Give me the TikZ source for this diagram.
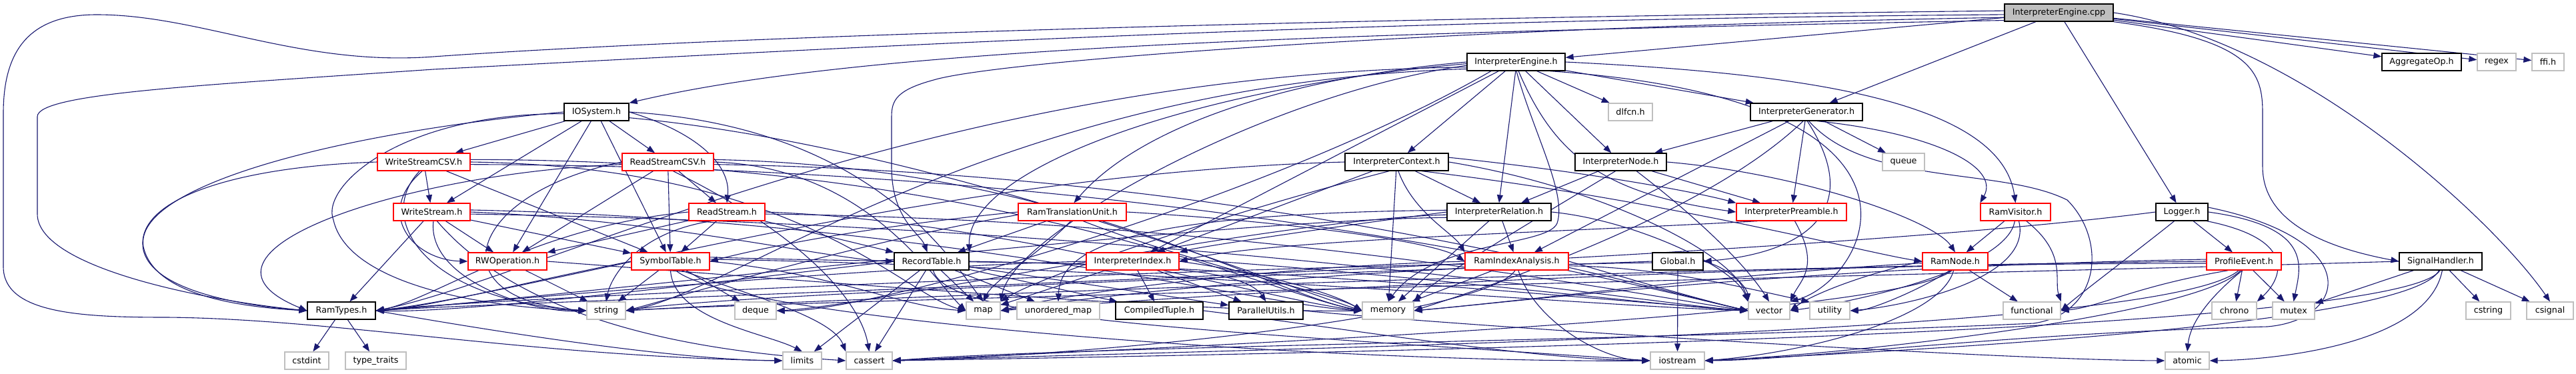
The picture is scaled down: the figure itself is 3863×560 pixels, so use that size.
\documentclass[tikz,border=0pt]{standalone}
\usepackage{fontspec}
\setmainfont{DejaVu Sans}
\usetikzlibrary{arrows.meta}
\definecolor{edgec}{HTML}{191970}
\definecolor{redc}{HTML}{FF0000}
\definecolor{greyc}{HTML}{BFBFBF}
\pgfdeclarelayer{background}
\pgfsetlayers{background,main}
\tikzset{
 nbox/.style={rectangle, minimum height=26pt, inner sep=0pt, fill=white, line width=1.3pt, font=\fontsize{12.7}{15}\selectfont, text=black},
 blk/.style={nbox, draw=black},
 rdn/.style={nbox, draw=redc},
 sys/.style={nbox, draw=greyc},
 cppn/.style={nbox, draw=black, fill=greyc},
 e/.style={draw=edgec, line width=1.1pt, -{Triangle[length=12pt,width=9pt]}},
}
\begin{document}
\begin{tikzpicture}[x=1pt,y=-1pt]
\useasboundingbox (0,0) rectangle (3863,560);
% row 0
\node[cppn, minimum width=163pt] (C) at (3087.5,19) {InterpreterEngine.cpp};
% row 1
\node[blk, minimum width=147pt] (IEh) at (2273.5,93) {InterpreterEngine.h};
\node[blk, minimum width=119pt] (Agg) at (3631.5,93) {AggregateOp.h};
\node[sys, minimum width=58pt] (regex) at (3744,93) {regex};
\node[sys, minimum width=48pt] (ffi) at (3821,93) {ffi.h};
% row 2
\node[blk, minimum width=97pt] (IOS) at (894.5,168) {IOSystem.h};
\node[blk, minimum width=168pt] (IGen) at (2709,168) {InterpreterGenerator.h};
\node[sys, minimum width=66pt] (dlfcn) at (2445,168) {dlfcn.h};
% row 3
\node[rdn, minimum width=139pt] (WSC) at (635.5,243) {WriteStreamCSV.h};
\node[rdn, minimum width=137pt] (RSC) at (1001.5,243) {ReadStreamCSV.h};
\node[blk, minimum width=155pt] (ICtx) at (2094.5,243) {InterpreterContext.h};
\node[blk, minimum width=137pt] (INode) at (2430.5,243) {InterpreterNode.h};
\node[sys, minimum width=63pt] (queue) at (2854.5,243) {queue};
% row 4
\node[rdn, minimum width=115pt] (WS) at (647.5,318) {WriteStream.h};
\node[rdn, minimum width=114pt] (RS) at (1090,318) {ReadStream.h};
\node[rdn, minimum width=162pt] (RTU) at (1608,318) {RamTranslationUnit.h};
\node[blk, minimum width=156pt] (IRel) at (2248,318) {InterpreterRelation.h};
\node[rdn, minimum width=165pt] (IPre) at (2686.5,318) {InterpreterPreamble.h};
\node[rdn, minimum width=105pt] (RVis) at (3022.5,318) {RamVisitor.h};
\node[blk, minimum width=78pt] (Log) at (3272,318) {Logger.h};
% row 5
\node[rdn, minimum width=118pt] (RWO) at (761,392) {RWOperation.h};
\node[rdn, minimum width=117pt] (Sym) at (1005.5,392) {SymbolTable.h};
\node[blk, minimum width=112pt] (Rec) at (1397,392) {RecordTable.h};
\node[rdn, minimum width=139pt] (IIdx) at (1698.5,392) {InterpreterIndex.h};
\node[rdn, minimum width=155pt] (RIA) at (2274.5,392) {RamIndexAnalysis.h};
\node[blk, minimum width=76pt] (Glob) at (2516,392) {Global.h};
\node[rdn, minimum width=98pt] (RNode) at (2932,392) {RamNode.h};
\node[rdn, minimum width=112pt] (Prof) at (3365,392) {ProfileEvent.h};
\node[blk, minimum width=124pt] (Sig) at (3660,392) {SignalHandler.h};
% row 6
\node[blk, minimum width=102pt] (RT) at (512,466) {RamTypes.h};
\node[sys, minimum width=58pt] (string) at (909,466) {string};
\node[sys, minimum width=62pt] (deque) at (1133,466) {deque};
\node[sys, minimum width=51pt] (map) at (1474.5,466) {map};
\node[sys, minimum width=124pt] (umap) at (1587,466) {unordered\_map};
\node[blk, minimum width=131pt] (CT) at (1738.5,466) {CompiledTuple.h};
\node[blk, minimum width=111pt] (PU) at (1898.5,466) {ParallelUtils.h};
\node[sys, minimum width=77pt] (memory) at (2081.5,466) {memory};
\node[sys, minimum width=62pt] (vector) at (2653,466) {vector};
\node[sys, minimum width=60pt] (utility) at (2744,466) {utility};
\node[sys, minimum width=86pt] (functional) at (3047,466) {functional};
\node[sys, minimum width=67pt] (chrono) at (3350.5,466) {chrono};
\node[sys, minimum width=63pt] (mutex) at (3439.5,466) {mutex};
\node[sys, minimum width=67pt] (cstring) at (3731.5,466) {cstring};
\node[sys, minimum width=70pt] (csignal) at (3824,466) {csignal};
% row 7
\node[sys, minimum width=66pt] (cstdint) at (460,541) {cstdint};
\node[sys, minimum width=91pt] (typet) at (563.5,541) {type\_traits};
\node[sys, minimum width=58pt] (limits) at (1203,541) {limits};
\node[sys, minimum width=69pt] (cassert) at (1303.5,541) {cassert};
\node[sys, minimum width=81pt] (iostream) at (2515.5,541) {iostream};
\node[sys, minimum width=66pt] (atomic) at (3280,541) {atomic};

\begin{pgfonlayer}{background}
% cpp
\draw[e] (C) -- (IEh);
\draw[e] (C) -- (Agg);
\draw[e] (C) -- (regex);
\draw[e] (C) -- (ffi);
\draw[e] (C) -- (Log);
\draw[e] (C) -- (IGen);
\draw[e] (C.188) .. controls (2000,50) and (1300,70) .. (IOS.north east);
\draw[e] (C.east) .. controls (3450,60) and (3740,330) .. (csignal.north);
\draw[e] (C.south east) .. controls (3380,60) and (3393,110) .. (3393,170) -- (3393,250) .. controls (3393,330) and (3480,370) .. (Sig.west);
\draw[e] (C.182) .. controls (2000,30) and (1300,70) .. (650,104) .. controls (300,128) and (56,140) .. (56,175) -- (56,321) .. controls (56,400) and (300,450) .. (RT.west);
\draw[e] (C.178) .. controls (1800,30) and (1000,60) .. (650,85) .. controls (450,100) and (300,22) .. (145,22) .. controls (40,22) and (5,80) .. (5,170) -- (5,400) .. controls (5,470) and (120,476) .. (250,476) .. controls (500,478) and (800,535) .. (limits.west);
\draw[e] (C.185) .. controls (2200,40) and (1500,90) .. (1400,120) .. controls (1345,135) and (1337,150) .. (1337,175) -- (1337,250) .. controls (1337,330) and (1380,350) .. (Rec.115);
% InterpreterEngine.h
\draw[e] (IEh) -- (ICtx);
\draw[e] (IEh.-93) -- (IRel.north);
\draw[e] (IEh) -- (INode);
\draw[e] (IEh) -- (dlfcn);
\draw[e] (IEh) -- (IGen);
\draw[e] (IEh.-75) .. controls (2330,230) and (2400,290) .. (IPre.west);
\draw[e] (IEh.east) .. controls (2700,110) and (3000,150) .. (RVis.north);
\draw[e] (IEh.-15) .. controls (2950,150) and (2800,420) .. (vector.north east);
\draw[e] (IEh.-88) .. controls (2300,200) and (2350,290) .. (2335,335) .. controls (2320,370) and (2150,360) .. (memory.north);
\draw[e] (IEh.west) .. controls (1900,120) and (1700,200) .. (RTU.80);
\draw[e] (IEh.182) .. controls (1800,130) and (1450,250) .. (Rec.north east);
\draw[e] (IEh.184) .. controls (1900,140) and (1520,350) .. (map.north east);
\draw[e] (IEh) -- (IIdx);
\draw[e] (IEh.186) .. controls (1400,110) and (800,420) .. (RT.east);
\draw[e] (IEh.188) .. controls (1500,125) and (1100,440) .. (string.east);
\draw[e] (IEh.200) .. controls (1900,300) and (1300,470) .. (deque.east);
% IOSystem.h
\draw[e] (IOS) -- (WSC);
\draw[e] (IOS) -- (WS);
\draw[e] (IOS) -- (RWO);
\draw[e] (IOS) -- (Sym);
\draw[e] (IOS) -- (RSC);
\draw[e] (IOS.east) .. controls (1050,200) and (1096,250) .. (RS.north);
\draw[e] (IOS.west) .. controls (500,200) and (200,280) .. (215,370) .. controls (230,440) and (350,460) .. (RT.west);
\draw[e] (IOS.183) .. controls (600,170) and (480,280) .. (500,330) .. controls (520,420) and (700,460) .. (string.west);
\draw[e] (IOS.east) .. controls (1300,190) and (1420,380) .. (map.north);
\draw[e] (IOS.-10) .. controls (1400,220) and (1900,420) .. (memory.west);
% WriteStreamCSV.h
\draw[e] (WSC) -- (WS);
\draw[e] (WSC.west) .. controls (350,250) and (200,300) .. (215,375) .. controls (230,440) and (380,460) .. (RT.west);
\draw[e] (WSC) -- (Sym);
\draw[e] (WSC.-100) .. controls (560,320) and (620,390) .. (RWO.west);
\draw[e] (WSC.-115) .. controls (560,330) and (640,450) .. (string.west);
\draw[e] (WSC.east) .. controls (1200,250) and (1350,440) .. (map.west);
\draw[e] (WSC.3) .. controls (1500,240) and (1900,440) .. (memory.west);
\draw[e] (WSC.-3) .. controls (1800,250) and (2500,440) .. (vector.west);
% ReadStreamCSV.h
\draw[e] (RSC) -- (RS);
\draw[e] (RSC) -- (Sym);
\draw[e] (RSC) -- (RWO);
\draw[e] (RSC.west) .. controls (700,290) and (650,450) .. (string.west);
\draw[e] (RSC.183) .. controls (600,260) and (250,380) .. (RT.west);
\draw[e] (RSC.east) .. controls (1300,250) and (1400,420) .. (map.west);
\draw[e] (RSC.3) .. controls (1600,250) and (1900,440) .. (memory.west);
\draw[e] (RSC.-3) .. controls (1900,260) and (2500,440) .. (vector.west);
\draw[e] (RSC.-60) .. controls (1200,350) and (1290,450) .. (cassert.north);
% WriteStream.h
\draw[e] (WS) -- (RWO);
\draw[e] (WS) -- (Sym);
\draw[e] (WS) -- (RT);
\draw[e] (WS.-80) .. controls (640,420) and (800,470) .. (string.west);
\draw[e] (WS.east) .. controls (1000,330) and (1250,390) .. (Rec.west);
\draw[e] (WS.3) .. controls (1400,330) and (1900,460) .. (memory.west);
\draw[e] (WS.-3) .. controls (1800,340) and (2500,460) .. (vector.west);
\draw[e] (WS.-60) .. controls (800,500) and (1100,530) .. (cassert.west);
% ReadStream.h
\draw[e] (RS) -- (RWO);
\draw[e] (RS) -- (Sym);
\draw[e] (RS.-150) .. controls (950,350) and (915,420) .. (string.north);
\draw[e] (RS.west) .. controls (800,340) and (650,450) .. (RT.east);
\draw[e] (RS) -- (Rec);
\draw[e] (RS.east) .. controls (1500,330) and (1900,450) .. (memory.west);
\draw[e] (RS.-3) .. controls (1900,330) and (2500,450) .. (vector.west);
% RWOperation.h
\draw[e] (RWO) -- (string);
\draw[e] (RWO.east) .. controls (1200,420) and (1800,470) .. (memory.west);
% SymbolTable.h
\draw[e] (Sym) -- (string);
\draw[e] (Sym) -- (deque);
\draw[e] (Sym.west) .. controls (800,420) and (650,460) .. (RT.east);
\draw[e] (Sym.south) .. controls (1010,480) and (1150,500) .. (limits.north);
\draw[e] (Sym.-60) .. controls (1100,480) and (2000,545) .. (iostream.west);
\draw[e] (Sym.east) .. controls (1250,410) and (1350,460) .. (map.west);
\draw[e] (Sym.3) .. controls (1700,400) and (2400,460) .. (vector.west);
\draw[e] (Sym.6) .. controls (1500,400) and (1850,380) .. (PU.north);
\draw[e] (Sym.-40) .. controls (1150,450) and (1250,480) .. (cassert.north west);
% RecordTable.h
\draw[e] (Rec) -- (map);
\draw[e] (Rec) -- (umap);
\draw[e] (Rec) -- (CT);
\draw[e] (Rec) -- (PU);
\draw[e] (Rec.west) .. controls (1100,420) and (700,470) .. (RT.east);
\draw[e] (Rec) -- (cassert);
\draw[e] (Rec) -- (limits);
\draw[e] (Rec.-80) .. controls (1420,480) and (1800,495) .. (iostream.west);
\draw[e] (Rec.east) .. controls (1900,400) and (2400,450) .. (vector.west);
% InterpreterIndex.h
\draw[e] (IIdx) -- (CT);
\draw[e] (IIdx) -- (PU);
\draw[e] (IIdx) -- (map);
\draw[e] (IIdx.west) .. controls (1300,400) and (700,455) .. (RT.east);
\draw[e] (IIdx.east) .. controls (1900,410) and (2000,440) .. (memory.west);
\draw[e] (IIdx.3) .. controls (2100,410) and (2500,460) .. (vector.west);
% RamTranslationUnit.h
\draw[e] (RTU) -- (Rec);
\draw[e] (RTU.-100) .. controls (1560,380) and (1490,420) .. (map.north);
\draw[e] (RTU.west) .. controls (1300,340) and (1150,370) .. (Sym.east);
\draw[e] (RTU.east) .. controls (1900,330) and (2150,360) .. (RIA.west);
\draw[e] (RTU.-40) .. controls (1800,400) and (2000,440) .. (memory.west);
\draw[e] (RTU.183) .. controls (1300,360) and (1000,450) .. (string.east);
% InterpreterContext.h
\draw[e] (ICtx) -- (IRel);
\draw[e] (ICtx.-80) .. controls (2120,320) and (2180,350) .. (RIA.north west);
\draw[e] (ICtx) -- (memory);
\draw[e] (ICtx) -- (IIdx);
\draw[e] (ICtx.west) .. controls (1400,260) and (800,440) .. (RT.east);
\draw[e] (ICtx.east) .. controls (2400,280) and (2600,380) .. (vector.north west);
\draw[e] (ICtx.-130) .. controls (1800,330) and (1550,420) .. (map.north east);
\draw[e] (ICtx.5) .. controls (2400,260) and (2550,290) .. (IPre.north west);
\draw[e] (ICtx.-20) .. controls (2500,300) and (2800,380) .. (RNode.west);
% InterpreterNode.h
\draw[e] (INode) -- (IRel);
\draw[e] (INode.east) .. controls (2700,260) and (2900,330) .. (RNode.north);
\draw[e] (INode) -- (IPre);
\draw[e] (INode.-120) .. controls (2300,330) and (2150,420) .. (memory.north east);
\draw[e] (INode.-30) .. controls (2550,330) and (2620,400) .. (vector.north);
% InterpreterRelation.h
\draw[e] (IRel) -- (RIA);
\draw[e] (IRel.west) .. controls (2000,340) and (1800,370) .. (IIdx.north east);
\draw[e] (IRel) -- (memory);
\draw[e] (IRel.east) .. controls (2450,330) and (2600,400) .. (vector.north west);
\draw[e] (IRel.183) .. controls (1900,330) and (1300,460) .. (deque.east);
\draw[e] (IRel.186) .. controls (1800,330) and (800,450) .. (RT.east);
\draw[e] (IRel.178) .. controls (1700,320) and (1590,370) .. (umap.north);
% InterpreterGenerator.h
\draw[e] (IGen) -- (queue);
\draw[e] (IGen) -- (IPre);
\draw[e] (IGen.-40) .. controls (2900,200) and (3000,250) .. (RVis.north west);
\draw[e] (IGen) -- (INode);
\draw[e] (IGen) -- (RIA);
\draw[e] (IGen.-110) .. controls (2550,330) and (2200,440) .. (memory.east);
\draw[e] (IGen.-85) .. controls (2800,320) and (2700,380) .. (Glob.east);
\draw[e] (IGen.-75) .. controls (2800,280) and (3000,250) .. (3100,300) .. controls (3160,360) and (3150,470) .. (3050,485) .. controls (2500,510) and (1600,520) .. (cassert.east);
% InterpreterPreamble.h
\draw[e] (IPre.-70) .. controls (2730,400) and (2700,420) .. (vector.north east);
\draw[e] (IPre.-165) .. controls (2300,350) and (1900,360) .. (IIdx.east);
% RamIndexAnalysis.h
\draw[e] (RIA.west) .. controls (1900,400) and (1600,440) .. (map.east);
\draw[e] (RIA) -- (memory);
\draw[e] (RIA.east) .. controls (2450,420) and (2550,450) .. (vector.west);
\draw[e] (RIA.-100) .. controls (2230,470) and (1700,530) .. (cassert.east);
\draw[e] (RIA.183) .. controls (1600,410) and (700,450) .. (RT.east);
\draw[e] (RIA.-5) .. controls (2500,400) and (2650,440) .. (utility.north west);
\draw[e] (RIA.-80) .. controls (2300,480) and (2400,540) .. (iostream.west);
% Global.h
\draw[e] (Glob) -- (iostream);
\draw[e] (Glob.west) .. controls (2000,410) and (1100,440) .. (string.east);
\draw[e] (Glob.183) .. controls (2000,400) and (1600,450) .. (map.east);
\draw[e] (Glob.east) .. controls (2590,400) and (2620,430) .. (vector.north west);
% RamVisitor.h
\draw[e] (RVis) -- (RNode);
\draw[e] (RVis.-40) .. controls (3100,380) and (3080,420) .. (functional.north east);
\draw[e] (RVis.-95) .. controls (3010,400) and (2800,450) .. (vector.east);
\draw[e] (RVis.-70) .. controls (3050,420) and (2850,460) .. (utility.east);
% RamNode.h
\draw[e] (RNode) -- (functional);
\draw[e] (RNode.-100) .. controls (2910,480) and (2700,530) .. (iostream.east);
\draw[e] (RNode.-110) .. controls (2850,470) and (2000,510) .. (cassert.east);
\draw[e] (RNode.west) .. controls (2800,410) and (2720,440) .. (vector.east);
\draw[e] (RNode.-120) .. controls (2870,440) and (2800,466) .. (utility.east);
\draw[e] (RNode.183) .. controls (2600,410) and (2300,450) .. (memory.east);
% Logger.h
\draw[e] (Log) -- (Prof);
\draw[e] (Log.-20) .. controls (3450,360) and (3420,420) .. (chrono.north east);
\draw[e] (Log.east) .. controls (3470,340) and (3450,400) .. (mutex.north);
\draw[e] (Log.10) .. controls (3550,360) and (3520,480) .. (3400,490) .. controls (3000,500) and (2700,540) .. (iostream.east);
\draw[e] (Log.-130) .. controls (3200,380) and (3120,440) .. (functional.east);
\draw[e] (Log.west) .. controls (2600,400) and (800,450) .. (RT.east);
% ProfileEvent.h
\draw[e] (Prof) -- (chrono);
\draw[e] (Prof) -- (mutex);
\draw[e] (Prof.-100) .. controls (3320,440) and (3285,480) .. (atomic.north);
\draw[e] (Prof.-150) .. controls (3200,430) and (3150,460) .. (functional.east);
\draw[e] (Prof.-110) .. controls (3300,470) and (2800,530) .. (iostream.east);
\draw[e] (Prof.west) .. controls (2500,400) and (1200,450) .. (string.east);
\draw[e] (Prof.183) .. controls (2500,395) and (1700,450) .. (map.east);
\draw[e] (Prof.177) .. controls (2700,400) and (2300,450) .. (memory.east);
\draw[e] (Prof.-120) .. controls (3250,500) and (2000,520) .. (cassert.east);
% SignalHandler.h
\draw[e] (Sig) -- (cstring);
\draw[e] (Sig) -- (csignal);
\draw[e] (Sig) -- (mutex);
\draw[e] (Sig.-80) .. controls (3640,520) and (3400,540) .. (atomic.east);
\draw[e] (Sig.-100) .. controls (3620,480) and (3000,520) .. (iostream.east);
\draw[e] (Sig.-95) .. controls (3600,500) and (2000,530) .. (cassert.east);
\draw[e] (Sig.west) .. controls (3000,410) and (1200,450) .. (string.east);
% bottom rows
\draw[e] (RT) -- (cstdint);
\draw[e] (RT) -- (typet);
\draw[e] (RT.east) .. controls (700,490) and (1000,540) .. (limits.west);
\draw[e] (CT.east) .. controls (2000,490) and (2300,540) .. (iostream.west);
\draw[e] (PU.east) .. controls (2200,490) and (3000,540) .. (atomic.west);
\end{pgfonlayer}
\end{tikzpicture}
\end{document}
